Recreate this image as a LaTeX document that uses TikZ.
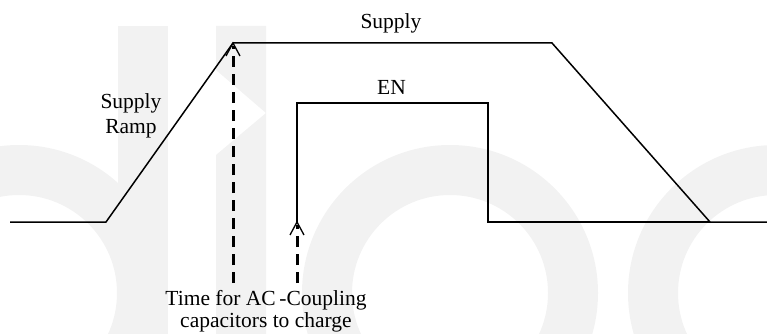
\documentclass[tikz,border=0pt]{standalone}
\usepackage{fontspec}
\setmainfont{Liberation Serif}
\usetikzlibrary{arrows.meta}
\definecolor{wm}{RGB}{242,242,242}
\tikzset{
  wave/.style={line width=1.5pt, line join=miter},
  dashshaft/.style={line width=3pt, dash pattern=on 11pt off 7pt},
  barb/.style={line width=1.3pt, line cap=butt},
  lbl/.style={font=\fontsize{21.5}{25}\selectfont, inner sep=0pt, align=center},
}
\begin{document}
\begin{tikzpicture}[x=1pt,y=-1pt]
\useasboundingbox (0,0) rectangle (767,334);
% watermark background
\begin{scope}
\clip (0,0) rectangle (767,334);
\fill[wm] (118,26) rectangle (168,334);
\fill[wm, even odd rule] (19,293) circle[radius=148] (19,293) circle[radius=98];
\fill[wm] (216,26) -- (266,26) -- (266,113) -- (216,70) -- cycle;
\fill[wm] (216,155) -- (266,113) -- (266,334) -- (216,334) -- cycle;
\fill[wm, even odd rule] (450,293) circle[radius=148] (450,293) circle[radius=98];
\fill[wm, even odd rule] (776,293) circle[radius=148] (776,293) circle[radius=98];
\end{scope}
% waveform corners
\coordinate (b0) at (10,222);
\coordinate (s0) at (106,222);
\coordinate (s1) at (233,43);
\coordinate (s2) at (552,43);
\coordinate (s3) at (710,222);
\coordinate (b1) at (767,222);
\coordinate (e0) at (297,222);
\coordinate (e1) at (297,103);
\coordinate (e2) at (488,103);
\coordinate (e3) at (488,222);
\coordinate (a1) at (233,283);
\coordinate (a2) at (297,283);
% baseline and supply
\draw[wave] (b0) -- (s0) -- (s1) -- (s2) -- (s3) -- (b1);
% enable
\draw[wave] (e0) -- (e1) -- (e2) -- (e3) -- (s3);
% dashed arrows
\draw[dashshaft] (a1) -- ([yshift=-3pt]s1);
\draw[dashshaft] (a2) -- ([yshift=-3pt]e0);
\draw[barb] ([xshift=-7pt,yshift=-13pt]s1) -- (s1) -- ([xshift=7pt,yshift=-13pt]s1);
\draw[barb] ([xshift=-7pt,yshift=-13pt]e0) -- (e0) -- ([xshift=7pt,yshift=-13pt]e0);
% labels
\node[lbl, anchor=base] (supply) at (391,29) {Supply};
\node[lbl, anchor=base] (en) at (391.5,95) {EN};
\node[lbl, anchor=base] (ramp) at (131,133) {Supply\\Ramp};
\node[lbl, anchor=base, font=\fontsize{21.5}{22}\selectfont] (time) at (266,327) {Time for AC\,-Coupling\\capacitors to charge};
\end{tikzpicture}
\end{document}
